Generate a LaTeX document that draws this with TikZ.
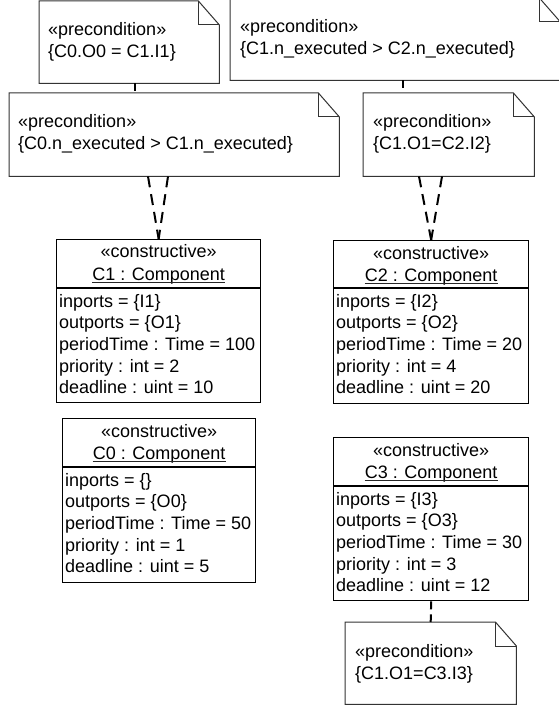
\documentclass[tikz,border=0pt]{standalone}
\usepackage{fontspec}
\setmainfont{Liberation Sans}
\newcommand\noteoutline[1]{%
  \draw[noteline, fill=white] (#1.north west) -- ([xshift=-21pt]#1.north east) -- ([yshift=-24pt]#1.north east) -- (#1.south east) -- (#1.south west) -- cycle;
  \draw[noteline] ([xshift=-21pt]#1.north east) |- ([yshift=-24pt]#1.north east);}
\begin{document}
\begin{tikzpicture}[x=1pt,y=-1pt,
  txt/.style={inner sep=0pt, font=\fontsize{18}{21.7}\selectfont},
  boxnode/.style={draw=black, line width=1.3pt, fill=white, inner sep=0pt, anchor=north west},
  notenode/.style={inner sep=0pt, anchor=north west},
  noteline/.style={draw=black!80, line width=1pt},
  divline/.style={draw=black, line width=1.3pt},
  uline/.style={draw=black!85, line width=1pt},
  depline/.style={draw=black, line width=2pt, dash pattern=on 11pt off 7pt},
  shortdep/.style={draw=black, line width=2pt, dash pattern=on 8pt off 5pt}]
\useasboundingbox (0,0) rectangle (558,708);

% ---------- notes ----------
\node[notenode, minimum width=180pt, minimum height=82pt] (nA) at (39,1) {};
\noteoutline{nA}
\node[txt, anchor=base west] (nAt1) at (48,36) {«precondition»};
\node[txt, anchor=base west] (nAt2) at (48,58) {\{C0.O0 = C1.I1\}};

\node[notenode, minimum width=330pt, minimum height=82pt] (nB) at (230,-2) {};
\noteoutline{nB}
\node[txt, anchor=base west] (nBt1) at (240,33) {«precondition»};
\node[txt, anchor=base west] (nBt2) at (240,55) {\{C1.n\_executed > C2.n\_executed\}};

\node[notenode, minimum width=330pt, minimum height=83pt] (nC) at (9,93) {};
\noteoutline{nC}
\node[txt, anchor=base west] (nCt1) at (18,128) {«precondition»};
\node[txt, anchor=base west] (nCt2) at (18,150) {\{C0.n\_executed > C1.n\_executed\}};

\node[notenode, minimum width=171pt, minimum height=83pt] (nD) at (363,93) {};
\noteoutline{nD}
\node[txt, anchor=base west] (nDt1) at (373,128) {«precondition»};
\node[txt, anchor=base west] (nDt2) at (373,150) {\{C1.O1=C2.I2\}};

\node[notenode, minimum width=171pt, minimum height=82pt] (nE) at (345,622) {};
\noteoutline{nE}
\node[txt, anchor=base west] (nEt1) at (355,657) {«precondition»};
\node[txt, anchor=base west] (nEt2) at (355,679) {\{C1.O1=C3.I3\}};

% ---------- components ----------
% C1
\node[boxnode, minimum width=204pt, minimum height=163pt] (c1) at (56,239) {};
\draw[divline] ([yshift=-49pt]c1.north west) -- ([yshift=-49pt]c1.north east);
\node[txt, anchor=base] (c1st) at ([yshift=-19pt]c1.north) {«constructive»};
\node[txt, anchor=base] (c1nm) at ([yshift=-41pt]c1.north) {C1 : Component};
\draw[uline] ([yshift=-2pt]c1nm.base west) -- ([yshift=-2pt]c1nm.base east);
\foreach \t [count=\i] in {inports = \{I1\}, outports = \{O1\}, periodTime : Time = 100, priority : int = 2, deadline : uint = 10}
  \node[txt, anchor=base west] (c1a\i) at ([xshift=3pt, yshift={-68pt-(\i-1)*21.7pt}]c1.north west) {\t};

% C2
\node[boxnode, minimum width=195pt, minimum height=163pt] (c2) at (333,240) {};
\draw[divline] ([yshift=-48pt]c2.north west) -- ([yshift=-48pt]c2.north east);
\node[txt, anchor=base] (c2st) at ([yshift=-19pt]c2.north) {«constructive»};
\node[txt, anchor=base] (c2nm) at ([yshift=-41pt]c2.north) {C2 : Component};
\draw[uline] ([yshift=-2pt]c2nm.base west) -- ([yshift=-2pt]c2nm.base east);
\foreach \t [count=\i] in {inports = \{I2\}, outports = \{O2\}, periodTime : Time = 20, priority : int = 4, deadline : uint = 20}
  \node[txt, anchor=base west] (c2a\i) at ([xshift=3pt, yshift={-67pt-(\i-1)*21.7pt}]c2.north west) {\t};

% C0
\node[boxnode, minimum width=193pt, minimum height=164pt] (c0) at (62,418) {};
\draw[divline] ([yshift=-49pt]c0.north west) -- ([yshift=-49pt]c0.north east);
\node[txt, anchor=base] (c0st) at ([yshift=-19pt]c0.north) {«constructive»};
\node[txt, anchor=base] (c0nm) at ([yshift=-41pt]c0.north) {C0 : Component};
\draw[uline] ([yshift=-2pt]c0nm.base west) -- ([yshift=-2pt]c0nm.base east);
\foreach \t [count=\i] in {inports = \{\}, outports = \{O0\}, periodTime : Time = 50, priority : int = 1, deadline : uint = 5}
  \node[txt, anchor=base west] (c0a\i) at ([xshift=3pt, yshift={-68pt-(\i-1)*21.7pt}]c0.north west) {\t};

% C3
\node[boxnode, minimum width=195pt, minimum height=163pt] (c3) at (333,437) {};
\draw[divline] ([yshift=-49pt]c3.north west) -- ([yshift=-49pt]c3.north east);
\node[txt, anchor=base] (c3st) at ([yshift=-19pt]c3.north) {«constructive»};
\node[txt, anchor=base] (c3nm) at ([yshift=-41pt]c3.north) {C3 : Component};
\draw[uline] ([yshift=-2pt]c3nm.base west) -- ([yshift=-2pt]c3nm.base east);
\foreach \t [count=\i] in {inports = \{I3\}, outports = \{O3\}, periodTime : Time = 30, priority : int = 3, deadline : uint = 12}
  \node[txt, anchor=base west] (c3a\i) at ([xshift=3pt, yshift={-68pt-(\i-1)*21.7pt}]c3.north west) {\t};

% ---------- connectors ----------
\coordinate (xa) at (135,0);
\coordinate (xb) at (403,0);
\coordinate (v1a) at (148,0);
\coordinate (v1b) at (168,0);
\coordinate (v2a) at (419,0);
\coordinate (v2b) at (442,0);

\draw[shortdep] (nA.south -| xa) -- (nC.north -| xa);
\draw[shortdep] (nB.south -| xb) -- (nD.north -| xb);
\draw[depline] (nC.south -| v1a) -- (c1.north);
\draw[depline] (nC.south -| v1b) -- (c1.north);
\draw[depline] (nD.south -| v2a) -- (c2.north);
\draw[depline] (nD.south -| v2b) -- (c2.north);
\draw[shortdep] (c3.south) -- (nE.north);
\end{tikzpicture}
\end{document}
